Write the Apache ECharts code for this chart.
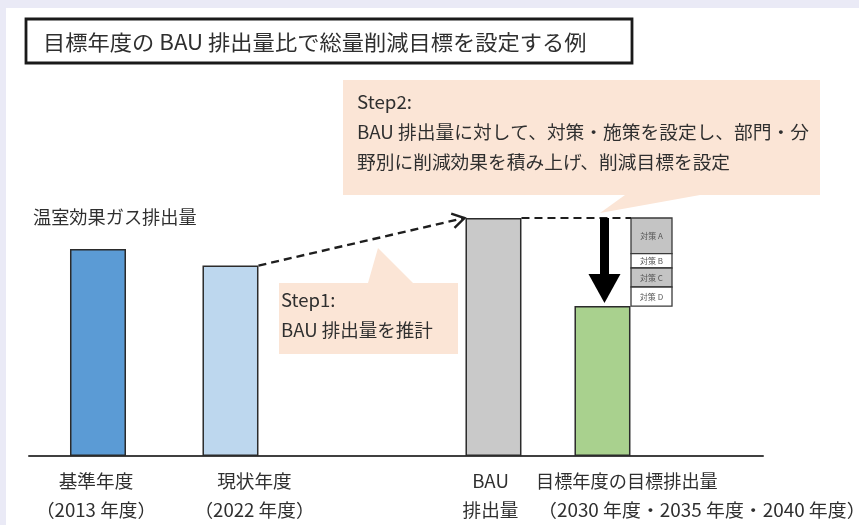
<!DOCTYPE html>
<html><head><meta charset="utf-8">
<script src="https://cdn.jsdelivr.net/npm/echarts@6/dist/echarts.min.js"></script>
<style>html,body{margin:0;padding:0;background:#fff}#c{width:859px;height:525px}</style>
</head><body><div id="c"></div><script>
// ---- data ----
const barLabels = ['基準年度', '現状年度', 'BAU', '目標年度の目標排出量'];
const barSubLabels = ['（2013 年度）', '（2022 年度）', '排出量', '（2030 年度・2035 年度・2040 年度）'];
const emissions = [87, 80, 100, 63];
const measureNames = ['対策 A', '対策 B', '対策 C', '対策 D'];
const measureValues = [15, 6, 8, 8];
const titleText = '目標年度の BAU 排出量比で総量削減目標を設定する例';
const yAxisTitle = '温室効果ガス排出量';
const step1Lines = ['Step1:', 'BAU 排出量を推計'];
const step2Lines = ['Step2:', 'BAU 排出量に対して、対策・施策を設定し、部門・分', '野別に削減効果を積み上げ、削減目標を設定'];

// ---- layout / style (not data) ----
const barSlots = [9.40, 27.45, 63.28, 78.13];
const measureSlot = 84.81;
const barColors = ['#5b9bd5', '#bdd7ee', '#c9c9c9', '#a9d18e'];
const measureColors = ['#c4c4c4', '#ffffff', '#c4c4c4', '#ffffff'];
const FONT = '"Noto Sans CJK JP", "Noto Sans", sans-serif';
const TXT = '#2f2f2f';
const PEACH = '#fbe5d6';
const BARW = 56, MW = 41;
const SX = 1.035;

// measures stacked downward from the BAU level to the target level
const measureRows = [];
{
  let top = emissions[2];
  measureValues.forEach((v, k) => {
    measureRows.push([measureSlot, top - v, top, k]);
    top -= v;
  });
}

const chart = echarts.init(document.getElementById('c'), null, {renderer: 'canvas'});

chart.setOption({
  animation: false,
  backgroundColor: '#ffffff',
  grid: {left: 29, right: 96, top: 218, bottom: 69},
  xAxis: [{
    type: 'value', min: 0, max: 100,
    axisLine: {show: true, onZero: false, lineStyle: {color: '#404040', width: 2}},
    axisTick: {show: false}, axisLabel: {show: false}, splitLine: {show: false}
  }, {
    type: 'value', min: 0, max: 100, show: false
  }],
  yAxis: {type: 'value', min: 0, max: 100, show: false, splitLine: {show: false}},
  series: [{
    type: 'bar', xAxisIndex: 0, yAxisIndex: 0, barWidth: BARW, silent: true,
    data: emissions.map((v, i) => ({value: [barSlots[i], v],
      itemStyle: {color: barColors[i], borderColor: '#2b2b2b', borderWidth: 1.5}})),
    z: 3
  }, {
    type: 'custom', xAxisIndex: 1, yAxisIndex: 0, silent: true, z: 3,
    data: measureRows,
    renderItem: (params, api) => {
      const x = api.value(0), lo = api.value(1), hi = api.value(2), k = api.value(3);
      const pHi = api.coord([x, hi]), pLo = api.coord([x, lo]);
      return {
        type: 'rect',
        shape: {x: pHi[0] - MW / 2, y: pHi[1], width: MW, height: pLo[1] - pHi[1]},
        style: {fill: measureColors[k], stroke: '#3a3a3a', lineWidth: 1.3},
        textContent: {style: {text: measureNames[k], fontSize: 8, fill: '#555', fontFamily: FONT}},
        textConfig: {position: 'inside'}
      };
    }
  }]
});

const px = (x, y) => chart.convertToPixel({xAxisIndex: 0, yAxisIndex: 0}, [x, y]);
const p2top = px(barSlots[1], emissions[1]);
const pBauTop = px(barSlots[2], emissions[2]);
const pTgtTop = px(barSlots[3], emissions[3]);
const pMeas = px(measureSlot, emissions[2]);
const baseY = px(0, 0)[1];

const txt = (x, y, t, size, opts) => Object.assign({type: 'text', x: x, y: y, scaleX: SX,
  style: {text: t, font: size + 'px ' + FONT, fill: TXT, verticalAlign: 'middle'}, z: 6}, opts || {});

const g = [];
// page frame (lavender strips)
g.push({type: 'rect', shape: {x: 0, y: 0, width: 859, height: 8}, style: {fill: '#eaeaf6'}, z: 0});
g.push({type: 'rect', shape: {x: 0, y: 0, width: 6, height: 525}, style: {fill: '#eaeaf6'}, z: 0});
// title box
g.push({type: 'rect', shape: {x: 26, y: 19, width: 606, height: 44},
  style: {fill: '#fff', stroke: '#1a1a1a', lineWidth: 2.8}, z: 5});
g.push(txt(43, 42, titleText, 21, {scaleX: 1.06}));
// y title
g.push(txt(33, 217, yAxisTitle, 18, {scaleX: 1.01}));
// Step2 box
g.push({type: 'polygon', shape: {points: [[343, 80], [820, 80], [820, 195], [700, 195], [600, 213], [625, 195], [343, 195]]},
  style: {fill: PEACH}, z: 1});
step2Lines.forEach((t, i) => g.push(txt(357, 102 + i * 30, t, 18, {scaleX: 1.04})));
// Step1 box
g.push({type: 'polygon', shape: {points: [[279, 283], [368, 283], [378, 248], [413, 283], [458, 283], [458, 354], [279, 354]]},
  style: {fill: PEACH}, z: 1});
step1Lines.forEach((t, i) => g.push(txt(281, 300 + i * 30, t, 18, {scaleX: 1.03})));

// dashed arrow from current-year bar to BAU bar
const s = [p2top[0] + BARW / 2, p2top[1]];
const e = [pBauTop[0] - BARW / 2 - 1, pBauTop[1]];
g.push({type: 'line', shape: {x1: s[0], y1: s[1], x2: e[0], y2: e[1]},
  style: {stroke: '#1e1e1e', lineWidth: 2.4, lineDash: [8, 5]}, z: 7});
const ang = Math.atan2(e[1] - s[1], e[0] - s[0]);
const ah = 14, aw = 0.55;
g.push({type: 'polyline', shape: {points: [
  [e[0] - ah * Math.cos(ang - aw), e[1] - ah * Math.sin(ang - aw)], e,
  [e[0] - ah * Math.cos(ang + aw), e[1] - ah * Math.sin(ang + aw)]]},
  style: {stroke: '#1e1e1e', lineWidth: 2.4, fill: null}, z: 7});
// horizontal dashed line BAU -> measures
g.push({type: 'line', shape: {x1: pBauTop[0] + BARW / 2, y1: pBauTop[1], x2: pMeas[0] - MW / 2, y2: pBauTop[1]},
  style: {stroke: '#1e1e1e', lineWidth: 2, lineDash: [8, 5]}, z: 7});
// big down arrow
const ax = pTgtTop[0] + 2;
g.push({type: 'rect', shape: {x: ax - 4.5, y: pBauTop[1], width: 9, height: (pTgtTop[1] - pBauTop[1]) - 31},
  style: {fill: '#000'}, z: 8});
g.push({type: 'polygon', shape: {points: [[ax - 16, pTgtTop[1] - 32], [ax + 16, pTgtTop[1] - 32], [ax, pTgtTop[1] - 3]]},
  style: {fill: '#000'}, z: 8});

// x labels
const lblOff = [-2, 24, -3, 0];
[0, 1, 2].forEach(i => {
  const cx = px(barSlots[i], 0)[0] + lblOff[i];
  g.push(txt(cx, baseY + 25, barLabels[i], 18, {style: {text: barLabels[i], font: '18px ' + FONT, fill: TXT, align: 'center', verticalAlign: 'middle'}}));
  g.push(txt(cx, baseY + 54, barSubLabels[i], 18, {style: {text: barSubLabels[i], font: '18px ' + FONT, fill: TXT, align: 'center', verticalAlign: 'middle'}}));
});
g.push(txt(536, baseY + 25, barLabels[3], 18, {scaleX: 1.01}));
g.push(txt(538, baseY + 54, barSubLabels[3], 18, {scaleX: 1.05}));

chart.setOption({graphic: g});
</script></body></html>
